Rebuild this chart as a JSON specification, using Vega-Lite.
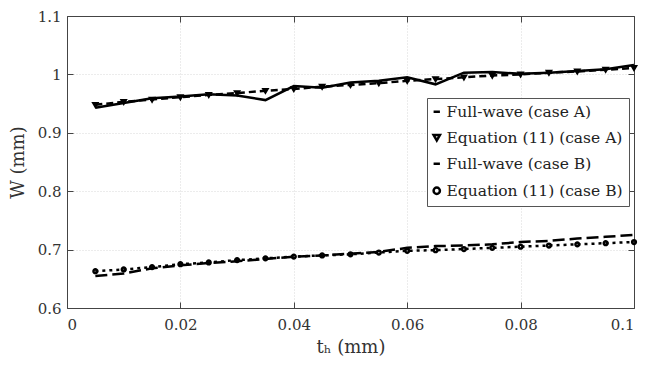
{
  "$schema": "https://vega.github.io/schema/vega-lite/v6.json",
  "width": 567,
  "height": 292,
  "autosize": {"type": "none"},
  "padding": {"left": 67, "top": 16, "right": 24, "bottom": 63},
  "background": "white",
  "config": {
    "view": {"stroke": null},
    "font": "DejaVu Serif",
    "axis": {
      "labelFont": "DejaVu Serif",
      "titleFont": "DejaVu Serif",
      "labelFontSize": 15,
      "titleFontSize": 18,
      "titleFontWeight": "normal",
      "labelColor": "#333",
      "titleColor": "#333",
      "domainColor": "#444",
      "tickColor": "#444",
      "gridColor": "#d9d9d9",
      "gridDash": [1, 2],
      "tickSize": -6,
      "labelPadding": 12
    },
    "legend": {
      "labelFont": "DejaVu Serif"
    }
  },
  "data": {
    "values": [
      {"t": 0.005, "W": 0.943, "s": "Full-wave (case A)"},
      {"t": 0.010, "W": 0.951, "s": "Full-wave (case A)"},
      {"t": 0.015, "W": 0.959, "s": "Full-wave (case A)"},
      {"t": 0.020, "W": 0.962, "s": "Full-wave (case A)"},
      {"t": 0.025, "W": 0.966, "s": "Full-wave (case A)"},
      {"t": 0.030, "W": 0.964, "s": "Full-wave (case A)"},
      {"t": 0.035, "W": 0.956, "s": "Full-wave (case A)"},
      {"t": 0.040, "W": 0.980, "s": "Full-wave (case A)"},
      {"t": 0.045, "W": 0.977, "s": "Full-wave (case A)"},
      {"t": 0.050, "W": 0.986, "s": "Full-wave (case A)"},
      {"t": 0.055, "W": 0.989, "s": "Full-wave (case A)"},
      {"t": 0.060, "W": 0.995, "s": "Full-wave (case A)"},
      {"t": 0.065, "W": 0.983, "s": "Full-wave (case A)"},
      {"t": 0.070, "W": 1.003, "s": "Full-wave (case A)"},
      {"t": 0.075, "W": 1.004, "s": "Full-wave (case A)"},
      {"t": 0.080, "W": 1.001, "s": "Full-wave (case A)"},
      {"t": 0.085, "W": 1.003, "s": "Full-wave (case A)"},
      {"t": 0.090, "W": 1.006, "s": "Full-wave (case A)"},
      {"t": 0.095, "W": 1.009, "s": "Full-wave (case A)"},
      {"t": 0.100, "W": 1.016, "s": "Full-wave (case A)"},
      {"t": 0.005, "W": 0.948, "s": "Equation (11) (case A)"},
      {"t": 0.010, "W": 0.953, "s": "Equation (11) (case A)"},
      {"t": 0.015, "W": 0.957, "s": "Equation (11) (case A)"},
      {"t": 0.020, "W": 0.961, "s": "Equation (11) (case A)"},
      {"t": 0.025, "W": 0.965, "s": "Equation (11) (case A)"},
      {"t": 0.030, "W": 0.968, "s": "Equation (11) (case A)"},
      {"t": 0.035, "W": 0.972, "s": "Equation (11) (case A)"},
      {"t": 0.040, "W": 0.975, "s": "Equation (11) (case A)"},
      {"t": 0.045, "W": 0.979, "s": "Equation (11) (case A)"},
      {"t": 0.050, "W": 0.982, "s": "Equation (11) (case A)"},
      {"t": 0.055, "W": 0.985, "s": "Equation (11) (case A)"},
      {"t": 0.060, "W": 0.989, "s": "Equation (11) (case A)"},
      {"t": 0.065, "W": 0.992, "s": "Equation (11) (case A)"},
      {"t": 0.070, "W": 0.995, "s": "Equation (11) (case A)"},
      {"t": 0.075, "W": 0.998, "s": "Equation (11) (case A)"},
      {"t": 0.080, "W": 1.000, "s": "Equation (11) (case A)"},
      {"t": 0.085, "W": 1.003, "s": "Equation (11) (case A)"},
      {"t": 0.090, "W": 1.005, "s": "Equation (11) (case A)"},
      {"t": 0.095, "W": 1.008, "s": "Equation (11) (case A)"},
      {"t": 0.100, "W": 1.011, "s": "Equation (11) (case A)"},
      {"t": 0.005, "W": 0.655, "s": "Full-wave (case B)"},
      {"t": 0.010, "W": 0.659, "s": "Full-wave (case B)"},
      {"t": 0.015, "W": 0.668, "s": "Full-wave (case B)"},
      {"t": 0.020, "W": 0.673, "s": "Full-wave (case B)"},
      {"t": 0.025, "W": 0.677, "s": "Full-wave (case B)"},
      {"t": 0.030, "W": 0.680, "s": "Full-wave (case B)"},
      {"t": 0.035, "W": 0.684, "s": "Full-wave (case B)"},
      {"t": 0.040, "W": 0.688, "s": "Full-wave (case B)"},
      {"t": 0.045, "W": 0.690, "s": "Full-wave (case B)"},
      {"t": 0.050, "W": 0.693, "s": "Full-wave (case B)"},
      {"t": 0.055, "W": 0.696, "s": "Full-wave (case B)"},
      {"t": 0.060, "W": 0.703, "s": "Full-wave (case B)"},
      {"t": 0.065, "W": 0.706, "s": "Full-wave (case B)"},
      {"t": 0.070, "W": 0.707, "s": "Full-wave (case B)"},
      {"t": 0.075, "W": 0.709, "s": "Full-wave (case B)"},
      {"t": 0.080, "W": 0.713, "s": "Full-wave (case B)"},
      {"t": 0.085, "W": 0.715, "s": "Full-wave (case B)"},
      {"t": 0.090, "W": 0.719, "s": "Full-wave (case B)"},
      {"t": 0.095, "W": 0.722, "s": "Full-wave (case B)"},
      {"t": 0.100, "W": 0.725, "s": "Full-wave (case B)"},
      {"t": 0.005, "W": 0.663, "s": "Equation (11) (case B)"},
      {"t": 0.010, "W": 0.666, "s": "Equation (11) (case B)"},
      {"t": 0.015, "W": 0.670, "s": "Equation (11) (case B)"},
      {"t": 0.020, "W": 0.675, "s": "Equation (11) (case B)"},
      {"t": 0.025, "W": 0.678, "s": "Equation (11) (case B)"},
      {"t": 0.030, "W": 0.682, "s": "Equation (11) (case B)"},
      {"t": 0.035, "W": 0.685, "s": "Equation (11) (case B)"},
      {"t": 0.040, "W": 0.688, "s": "Equation (11) (case B)"},
      {"t": 0.045, "W": 0.690, "s": "Equation (11) (case B)"},
      {"t": 0.050, "W": 0.692, "s": "Equation (11) (case B)"},
      {"t": 0.055, "W": 0.695, "s": "Equation (11) (case B)"},
      {"t": 0.060, "W": 0.698, "s": "Equation (11) (case B)"},
      {"t": 0.065, "W": 0.699, "s": "Equation (11) (case B)"},
      {"t": 0.070, "W": 0.701, "s": "Equation (11) (case B)"},
      {"t": 0.075, "W": 0.703, "s": "Equation (11) (case B)"},
      {"t": 0.080, "W": 0.705, "s": "Equation (11) (case B)"},
      {"t": 0.085, "W": 0.707, "s": "Equation (11) (case B)"},
      {"t": 0.090, "W": 0.709, "s": "Equation (11) (case B)"},
      {"t": 0.095, "W": 0.711, "s": "Equation (11) (case B)"},
      {"t": 0.100, "W": 0.713, "s": "Equation (11) (case B)"}
    ]
  },
  "resolve": {"axis": {"x": "independent", "y": "independent"}},
  "layer": [
    {
      "transform": [{"filter": "datum.s == 'Full-wave (case A)'"}],
      "mark": {"type": "line", "color": "black", "strokeWidth": 2.5},
      "encoding": {
        "x": {
          "field": "t", "type": "quantitative",
          "scale": {"domain": [0, 0.1], "nice": false},
          "axis": {"orient": "bottom", "values": [0, 0.02, 0.04, 0.06, 0.08, 0.1], "format": "~g", "title": "tₕ (mm)", "titlePadding": 6, "labelPadding": 15, "grid": true}
        },
        "y": {
          "field": "W", "type": "quantitative",
          "scale": {"domain": [0.6, 1.1], "nice": false, "zero": false},
          "axis": {"orient": "left", "values": [0.6, 0.7, 0.8, 0.9, 1, 1.1], "format": "~g", "title": "W (mm)", "titlePadding": 10, "grid": true}
        }
      }
    },
    {
      "transform": [{"filter": "datum.s == 'Equation (11) (case A)'"}],
      "mark": {"type": "line", "color": "black", "strokeWidth": 2.5, "strokeDash": [7, 4]},
      "encoding": {
        "x": {"field": "t", "type": "quantitative", "axis": null},
        "y": {"field": "W", "type": "quantitative", "axis": null}
      }
    },
    {
      "transform": [{"filter": "datum.s == 'Full-wave (case B)'"}],
      "mark": {"type": "line", "color": "black", "strokeWidth": 2.5, "strokeDash": [12, 5]},
      "encoding": {
        "x": {"field": "t", "type": "quantitative", "axis": null},
        "y": {"field": "W", "type": "quantitative", "axis": null}
      }
    },
    {
      "transform": [{"filter": "datum.s == 'Equation (11) (case B)'"}],
      "mark": {"type": "line", "color": "black", "strokeWidth": 2.5, "strokeDash": [3, 4]},
      "encoding": {
        "x": {"field": "t", "type": "quantitative", "axis": null},
        "y": {"field": "W", "type": "quantitative", "axis": null}
      }
    },
    {
      "transform": [{"filter": "indexof(datum.s, 'Equation') >= 0"}],
      "mark": {"type": "point", "filled": false, "color": "black", "strokeWidth": 2.5, "opacity": 1, "size": 14},
      "encoding": {
        "x": {
          "field": "t", "type": "quantitative",
          "axis": {"orient": "top", "values": [0, 0.02, 0.04, 0.06, 0.08, 0.1], "labels": false, "title": null, "grid": false}
        },
        "y": {
          "field": "W", "type": "quantitative",
          "axis": {"orient": "right", "values": [0.6, 0.7, 0.8, 0.9, 1, 1.1], "labels": false, "title": null, "grid": false}
        },
        "shape": {
          "field": "s", "type": "nominal",
          "scale": {
            "domain": ["Full-wave (case A)", "Equation (11) (case A)", "Full-wave (case B)", "Equation (11) (case B)"],
            "range": ["stroke", "triangle-down", "stroke", "circle"]
          },
          "legend": {
            "title": null,
            "orient": "none",
            "legendX": 360,
            "legendY": 82,
            "fillColor": "white",
            "strokeColor": "#555",
            "padding": 6,
            "rowPadding": 9,
            "labelFontSize": 15.5,
            "labelLimit": 400,
            "labelColor": "#222",
            "labelOffset": 2,
            "symbolSize": 40,
            "symbolOffset": -4,
            "symbolStrokeWidth": 2.5,
            "symbolFillColor": "black"
          }
        }
      }
    }
  ]
}
